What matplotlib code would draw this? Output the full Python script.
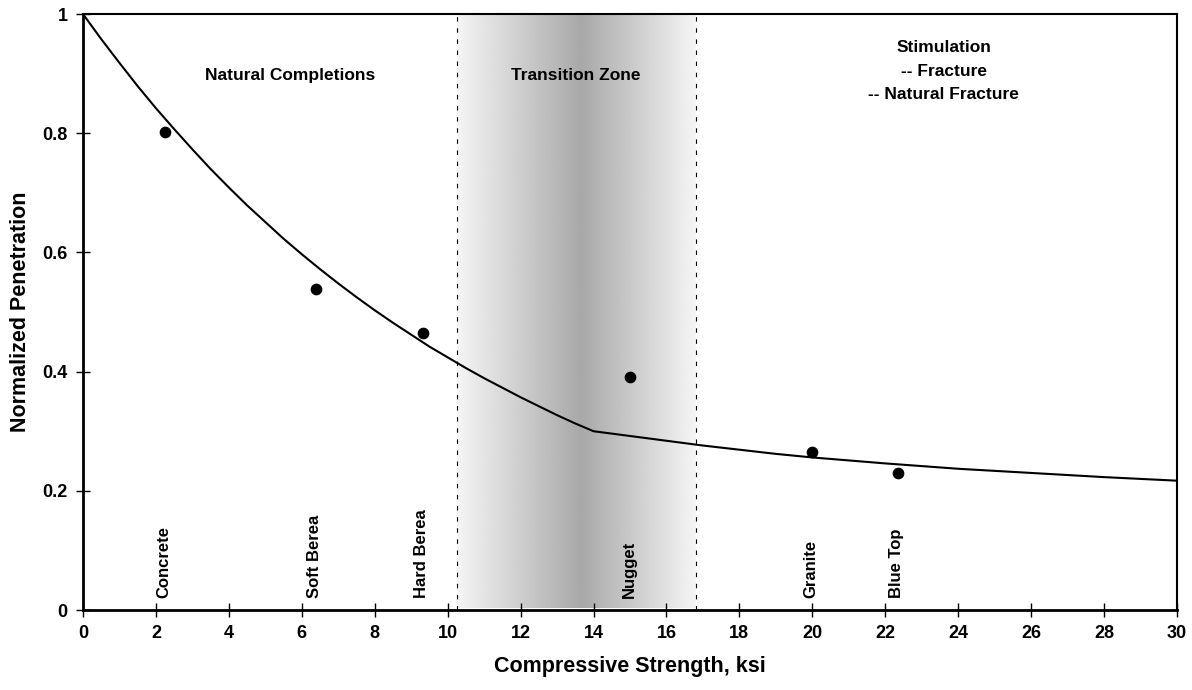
import numpy as np
import matplotlib.pyplot as plt

plt.rcParams['font.family'] = ['Liberation Sans', 'DejaVu Sans']
plt.rcParams['font.weight'] = 'bold'

# fitted curve
curve_x = [0, 0.5, 1, 1.5, 2, 2.5, 3, 3.5, 4, 4.5, 5, 5.5, 6, 6.5, 7, 7.5, 8, 8.5, 9, 9.5,
           10, 10.5, 11, 11.5, 12, 12.5, 13, 13.5, 14,
           15, 16, 17, 18, 19, 20, 22, 24, 26, 28, 30]
curve_y = [1.0, 0.958, 0.918, 0.879, 0.842, 0.807, 0.773, 0.740, 0.709, 0.679, 0.651, 0.623,
           0.597, 0.572, 0.548, 0.525, 0.503, 0.482, 0.462, 0.442, 0.424, 0.406, 0.389, 0.373,
           0.357, 0.342, 0.327, 0.313, 0.300,
           0.292, 0.284, 0.276, 0.269, 0.262, 0.256, 0.246, 0.237, 0.230, 0.223, 0.217]

# test data points
rocks = ['Concrete', 'Soft Berea', 'Hard Berea', 'Nugget', 'Granite', 'Blue Top']
rock_x = [2.25, 6.39, 9.32, 15.0, 20.0, 22.35]
rock_y = [0.802, 0.539, 0.465, 0.391, 0.265, 0.230]

zone_left, zone_right = 10.25, 16.8

fig = plt.figure(figsize=(11.92, 6.9), dpi=100)
ax = fig.add_axes([0.0696, 0.1159, 0.9178, 0.8638])

# transition zone shading (light - dark - light)
grad_x = np.linspace(0, 1, 300)
peak = 0.52
shade = np.where(grad_x < peak, 0.96 - 0.30 * (grad_x / peak),
                 0.66 + 0.30 * ((grad_x - peak) / (1 - peak)))
img = np.tile(shade, (2, 1))
ax.imshow(img, cmap='gray', vmin=0, vmax=1, aspect='auto',
          extent=[zone_left, zone_right, 0.003, 1], zorder=0, interpolation='bilinear')

ax.axvline(zone_left, color='black', lw=0.8, ls=(0, (4, 6)), zorder=1)
ax.axvline(zone_right, color='black', lw=0.8, ls=(0, (4, 6)), zorder=1)

ax.plot(curve_x, curve_y, color='black', lw=1.5, zorder=3)
ax.scatter(rock_x, rock_y, s=55, color='black', zorder=4)

for name, xv in zip(rocks, rock_x):
    ax.text(xv - 0.03, 0.02, name, rotation=90, ha='center', va='bottom',
            fontsize=12, fontweight='bold')

ax.text(5.68, 0.897, 'Natural Completions', ha='center', va='center', fontsize=12.5, fontweight='bold')
ax.text(13.5, 0.897, 'Transition Zone', ha='center', va='center', fontsize=12.5, fontweight='bold')
ax.text(23.6, 0.904, 'Stimulation\n-- Fracture\n-- Natural Fracture', ha='center', va='center',
        fontsize=12.5, fontweight='bold', linespacing=1.7)

ax.set_xlim(0, 30)
ax.set_ylim(0, 1)
ax.set_xticks(range(0, 31, 2))
ax.set_yticks([0, 0.2, 0.4, 0.6, 0.8, 1])
ax.set_yticklabels(['0', '0.2', '0.4', '0.6', '0.8', '1'])
ax.tick_params(direction='inout', length=10, width=1, labelsize=13, pad=6)
for lab in ax.get_xticklabels() + ax.get_yticklabels():
    lab.set_fontweight('bold')

ax.spines['left'].set_linewidth(2)
ax.spines['bottom'].set_linewidth(2)
ax.spines['top'].set_linewidth(1.5)
ax.spines['right'].set_linewidth(1.5)

ax.set_xlabel('Compressive Strength, ksi', fontsize=15.5, fontweight='bold', labelpad=10)
ax.set_ylabel('Normalized Penetration', fontsize=15.5, fontweight='bold', labelpad=8)

fig.savefig('out.png', dpi=100)
